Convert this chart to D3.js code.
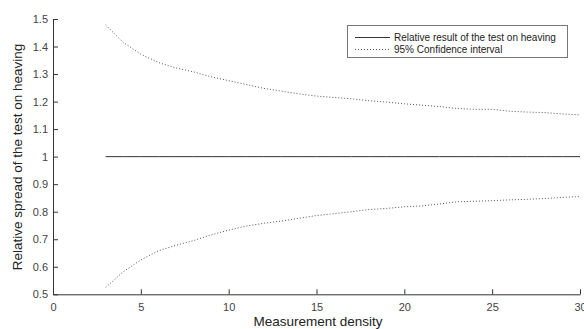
<!DOCTYPE html>
<html><head><meta charset="utf-8">
<script src="https://cdn.jsdelivr.net/npm/d3@7"></script>
<style>body{margin:0;background:#fff}svg{display:block}text{font-family:"Liberation Sans",Arial,sans-serif}</style>
</head><body><svg id="c" width="584" height="329"></svg>
<script>
const density = [3,4,5,6,7,8,9,10,11,12,13,14,15,16,17,18,19,20,21,22,23,24,25,26,27,28,29,30];
const upper = [1.478,1.415,1.372,1.342,1.322,1.308,1.290,1.276,1.262,1.248,1.238,1.228,1.220,1.215,1.210,1.203,1.198,1.192,1.187,1.182,1.175,1.172,1.172,1.165,1.162,1.160,1.155,1.152];
const lower = [0.525,0.582,0.625,0.658,0.678,0.695,0.716,0.733,0.748,0.758,0.766,0.776,0.786,0.793,0.800,0.808,0.812,0.818,0.821,0.828,0.836,0.838,0.840,0.843,0.845,0.848,0.852,0.855];
const result = density.map(() => 1);
const xTicks = [0,5,10,15,20,25,30];
const yTicks = [0.5,0.6,0.7,0.8,0.9,1,1.1,1.2,1.3,1.4,1.5];
const legendLabels = ["Relative result of the test on heaving","95% Confidence interval"];

const svg = d3.select("#c");
const x = d3.scaleLinear().domain([0,30]).range([53,580]);
const y = d3.scaleLinear().domain([0.5,1.5]).range([294.3,19]);

const gx = svg.append("g").attr("transform","translate(0,294.3)")
  .call(d3.axisBottom(x).tickValues(xTicks).tickSizeInner(-5).tickSizeOuter(0).tickPadding(9).tickFormat(d3.format("d")));
const gy = svg.append("g").attr("transform","translate(53,0)")
  .call(d3.axisLeft(y).tickValues(yTicks).tickSizeInner(-5).tickSizeOuter(0).tickPadding(5).tickFormat(d => String(d)));
[gx,gy].forEach(g=>{
  g.select(".domain").attr("stroke","#333").attr("stroke-width",1);
  g.selectAll(".tick line").attr("stroke","#333");
  g.selectAll(".tick text").attr("fill","#444").style("font-size","11px");
});

const line = d3.line().x((d,i)=>x(density[i])).y(d=>y(d));
svg.append("path").datum(result).attr("d",line).attr("fill","none").attr("stroke","#333").attr("stroke-width",1);
[upper,lower].forEach(s=>{
  svg.append("path").datum(s).attr("d",line).attr("fill","none").attr("stroke","#555").attr("stroke-width",1).attr("stroke-dasharray","1,2");
});

svg.append("text").attr("x",318).attr("y",326).attr("text-anchor","middle").attr("fill","#222").style("font-size","13.5px").text("Measurement density");
svg.append("text").attr("transform","translate(22,157) rotate(-90)").attr("text-anchor","middle").attr("fill","#222").style("font-size","13.5px").text("Relative spread of the test on heaving");

const lg = svg.append("g");
lg.append("rect").attr("x",347.5).attr("y",25.5).attr("width",220).attr("height",32).attr("fill","#fff").attr("stroke","#777").attr("stroke-width",1);
legendLabels.forEach((t,i)=>{
  const yy = 37.5 + i*12;
  lg.append("line").attr("x1",355).attr("x2",390).attr("y1",yy).attr("y2",yy)
    .attr("stroke", i===0?"#333":"#555").attr("stroke-dasharray", i===0?null:"1,2");
  lg.append("text").attr("x",394).attr("y",yy+3.5).attr("fill","#222").style("font-size","10px").text(t);
});
</script></body></html>
